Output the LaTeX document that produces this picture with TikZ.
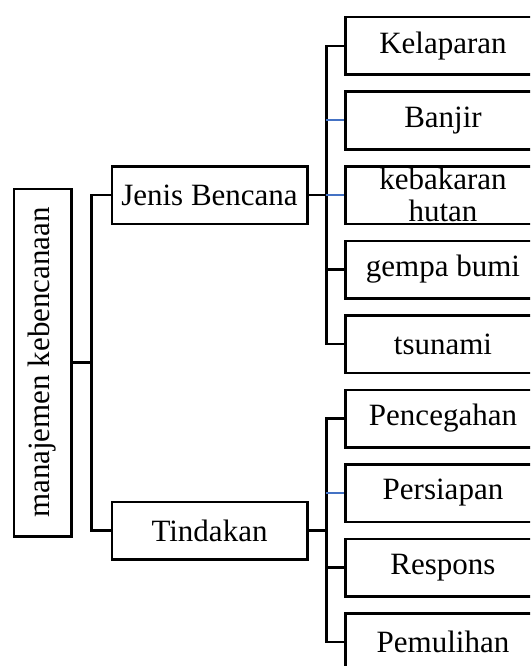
\documentclass[tikz,border=0pt]{standalone}
\usepackage{fontspec}
\setmainfont{Liberation Serif}
\usetikzlibrary{positioning}
\usetikzlibrary{calc}
\definecolor{linkblue}{HTML}{4472C4}

\begin{document}
\begin{tikzpicture}[x=1pt,y=1pt,font=\fontsize{31}{32}\selectfont,
    box/.style={draw,line width=2.5pt,minimum width=195.5pt,minimum height=57.5pt,inner sep=0pt,align=center},
    link/.style={line width=2.5pt},
    bluelink/.style={line width=2pt,linkblue}]
    \useasboundingbox (0,0) rectangle (530,-666);
    \clip (0,0) rectangle (530,-666);
    % right column
    \node (K1) [box] at (443,-46) {Kelaparan};
    \node (K2) [box,below=14.5pt of K1] {Banjir};
    \node (K3) [box,below=14.5pt of K2] {kebakaran\\hutan};
    \node (K4) [box,below=14.5pt of K3] {gempa bumi};
    \node (K5) [box,below=14.5pt of K4] {tsunami};
    \node (P1) [box,below=14.5pt of K5] {Pencegahan};
    \node (P2) [box,below=14.5pt of P1] {Persiapan};
    \node (P3) [box,below=14.5pt of P2] {Respons};
    \node (P4) [box,below=14.5pt of P3] {Pemulihan};
    % middle column
    \node (J) [box,left=35.5pt of K3] {Jenis Bencana};
    \node (T) [box] at ($(J)+(0,-335.5)$) {Tindakan};
    % root
    \node (M) [box,rotate=90,minimum width=347.5pt] at (42.5,-362.5) {manajemen kebencanaan};

    \coordinate (mbus) at ($(M.south)!.5!(J.west)$);
    \coordinate (jbus) at ($(J.east)!.5!(K3.west)$);
    \coordinate (tbus) at ($(T.east)!.5!(P2.west)$);

    \draw [link] (M.south) -- (mbus |- M.south);
    \draw [link] (J.west) -| (mbus) |- (T.west);

    \draw [link] (J.east) -- (jbus);
    \draw [link] (K1.west) -| (jbus) |- (K5.west);
    \draw [link] (jbus |- K4.west) -- (K4.west);
    \draw [bluelink] (jbus |- K2.west) -- (K2.west);
    \draw [bluelink] (jbus |- K3.west) -- (K3.west);

    \draw [link] (T.east) -- (tbus |- T.east);
    \draw [link] (P1.west) -| (tbus) |- (P4.west);
    \draw [link] (tbus |- P3.west) -- (P3.west);
    \draw [bluelink] (tbus |- P2.west) -- (P2.west);
\end{tikzpicture}
\end{document}
